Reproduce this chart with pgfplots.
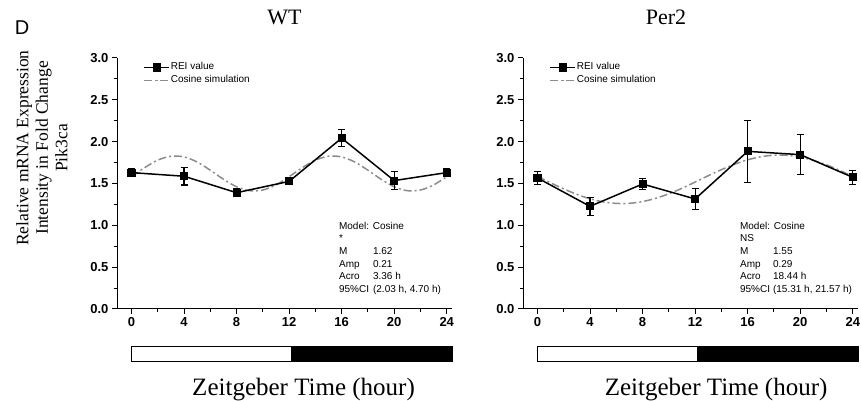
\documentclass[border=0pt]{standalone}
\usepackage{fontspec}
\setmainfont{Liberation Serif}
\newfontfamily\arial{Liberation Sans}
\usepackage{pgfplots}
\usepackage{pgfplotstable}
\pgfplotsset{compat=1.18}
\definecolor{cosgray}{RGB}{140,140,140}

\pgfplotstableread{
t y e
0 1.630 0.05
4 1.587 0.105
8 1.390 0.05
12 1.525 0.03
16 2.042 0.10
20 1.535 0.11
24 1.630 0.05
}\wtdata

\pgfplotstableread{
t y
0 1.581
1 1.689
2 1.779
3 1.826
4 1.818
5 1.757
6 1.659
7 1.551
8 1.461
9 1.414
10 1.422
11 1.483
12 1.581
13 1.689
14 1.779
15 1.826
16 1.818
17 1.757
18 1.659
19 1.551
20 1.461
21 1.414
22 1.422
23 1.483
24 1.581
}\wtcos

\pgfplotstableread{
t y e
0 1.566 0.08
4 1.227 0.11
8 1.494 0.07
12 1.315 0.125
16 1.884 0.37
20 1.845 0.24
24 1.574 0.085
}\perdata

\pgfplotstableread{
t y
0 1.583
1 1.508
2 1.435
3 1.370
4 1.317
5 1.280
6 1.262
7 1.263
8 1.284
9 1.323
10 1.377
11 1.443
12 1.517
13 1.593
14 1.665
15 1.730
16 1.783
17 1.820
18 1.838
19 1.837
20 1.816
21 1.777
22 1.723
23 1.657
24 1.583
}\percos

\pgfplotsset{
  myaxis/.style={
    scale only axis, width=335pt, height=251pt,
    xmin=-1.1, xmax=24.4, ymin=0, ymax=3,
    axis lines*=left,
    axis line style={line width=1pt},
    xtick={0,4,8,12,16,20,24}, minor xtick={2,6,10,14,18,22},
    ytick={0,0.5,1,1.5,2,2.5,3}, minor ytick={0.25,0.75,1.25,1.75,2.25,2.75},
    tick align=outside,
    major tick length=5pt, minor tick length=3pt,
    major tick style={black, line width=1pt},
    minor tick style={black, line width=1pt},
    /pgf/number format/assume math mode=true,
    tick label style={font=\arial\bfseries\fontsize{13}{13}\selectfont},
    yticklabel style={/pgf/number format/.cd, fixed, fixed zerofill, precision=1},
    clip=false,
    legend style={draw=none, fill=none, at={(0.069,0.997)}, anchor=north west,
      font=\arial\fontsize{10}{10}\selectfont,
      nodes={inner xsep=1pt, inner ysep=2pt, text height=7pt, text depth=2pt}},
    legend cell align=left,
    legend image code/.code={\draw[mark repeat=2,mark phase=2,##1] plot coordinates {(0pt,0pt) (12.5pt,0pt) (25pt,0pt)};},
  },
  rei/.style={black, line width=1.5pt, mark=square*, mark size=3.3pt, mark options={solid}},
  cosl/.style={cosgray, line width=1.5pt, dash pattern=on 8pt off 3pt on 2pt off 3pt, no markers},
}

\begin{document}
\begin{tikzpicture}
\useasboundingbox (0,0) rectangle (861pt,401pt);

% ---------- WT ----------
\begin{axis}[myaxis, at={(117pt,92pt)}, anchor=south west]
\addlegendimage{rei}
\addlegendentry{REI value}
\addlegendimage{cosl}
\addlegendentry{Cosine simulation}
\addplot[cosl, smooth, forget plot] table[x=t,y=y] {\wtcos};
\addplot[rei, forget plot, error bars/.cd, y dir=both, y explicit,
  error bar style={line width=1.2pt, solid},
  error mark options={rotate=90, mark size=3.5pt, line width=1.2pt}]
  table[x=t, y=y, y error=e] {\wtdata};
\filldraw[line width=1pt, fill=white] (axis cs:0,-0.454) rectangle (axis cs:12.2,-0.633);
\filldraw[line width=1pt, fill=black] (axis cs:12.2,-0.454) rectangle (axis cs:24.45,-0.633);
\node[anchor=base, font=\fontsize{25}{25}\selectfont] at (axis cs:13.1,-1.028) {Zeitgeber Time (hour)};
\node[anchor=base west, inner sep=0pt, font=\arial\fontsize{10}{12.7}\selectfont] at (axis cs:15.79,0.956)
  {\begin{tabular}[t]{@{}p{34pt}@{}l@{}}
   \multicolumn{2}{@{}l@{}}{Model: Cosine}\\
   {*}&\\
   M&1.62\\
   Amp&0.21\\
   Acro&3.36 h\\
   95\%CI&(2.03 h, 4.70 h)
   \end{tabular}};
\end{axis}

% ---------- Per2 ----------
\begin{axis}[myaxis, at={(523pt,92pt)}, anchor=south west]
\addlegendimage{rei}
\addlegendentry{REI value}
\addlegendimage{cosl}
\addlegendentry{Cosine simulation}
\addplot[cosl, smooth, forget plot] table[x=t,y=y] {\percos};
\addplot[rei, forget plot, error bars/.cd, y dir=both, y explicit,
  error bar style={line width=1.2pt, solid},
  error mark options={rotate=90, mark size=3.5pt, line width=1.2pt}]
  table[x=t, y=y, y error=e] {\perdata};
\filldraw[line width=1pt, fill=white] (axis cs:0,-0.454) rectangle (axis cs:12.2,-0.633);
\filldraw[line width=1pt, fill=black] (axis cs:12.2,-0.454) rectangle (axis cs:24.45,-0.633);
\node[anchor=base, font=\fontsize{25}{25}\selectfont] at (axis cs:13.6,-1.028) {Zeitgeber Time (hour)};
\node[anchor=base west, inner sep=0pt, font=\arial\fontsize{10}{12.7}\selectfont] at (axis cs:15.41,0.956)
  {\begin{tabular}[t]{@{}p{33pt}@{}l@{}}
   \multicolumn{2}{@{}l@{}}{Model: Cosine}\\
   NS&\\
   M&1.55\\
   Amp&0.29\\
   Acro&18.44 h\\
   95\%CI&(15.31 h, 21.57 h)
   \end{tabular}};
\end{axis}

% ---------- titles and labels ----------
\node[anchor=base, font=\fontsize{22}{22}\selectfont] at (284.5pt,376pt) {WT};
\node[anchor=base, font=\fontsize{22}{22}\selectfont] at (666pt,376pt) {Per2};
\node[anchor=base, font=\arial\fontsize{20}{20}\selectfont] at (22pt,366pt) {D};
\node[rotate=90, align=center, font=\fontsize{17.5}{19.5}\selectfont] at (42pt,253pt)
  {Relative mRNA Expression\\Intensity in Fold Change\\Pik3ca};
\end{tikzpicture}
\end{document}
